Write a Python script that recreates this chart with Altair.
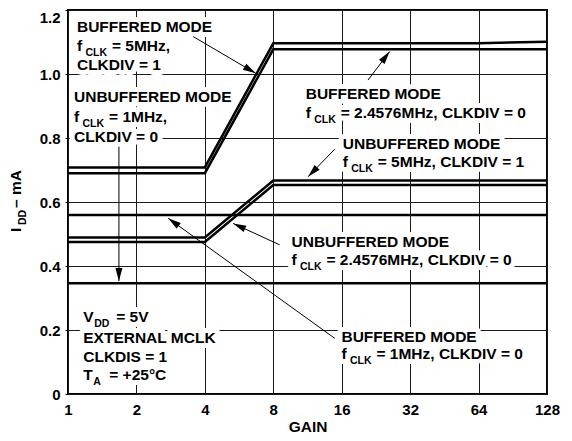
import math
import altair as alt
import pandas as pd

# ---------------- data (GAIN vs IDD, mA) ----------------
gain_buf_5m = [1, 4, 8, 64, 128]
idd_buf_5m = [0.708, 0.708, 1.096, 1.096, 1.101]
gain_buf_2m = [1, 4, 8, 128]
idd_buf_2m = [0.690, 0.690, 1.077, 1.077]
gain_unbuf_5m = [1, 4, 8, 128]
idd_unbuf_5m = [0.489, 0.489, 0.667, 0.667]
gain_unbuf_2m = [1, 4, 8, 128]
idd_unbuf_2m = [0.475, 0.475, 0.653, 0.653]
gain_buf_1m = [1, 128]
idd_buf_1m = [0.559, 0.559]
gain_unbuf_1m = [1, 128]
idd_unbuf_1m = [0.346, 0.346]

x_ticks = [1, 2, 4, 8, 16, 32, 64, 128]
y_ticks = [0, 0.2, 0.4, 0.6, 0.8, 1.0, 1.2]

# annotation blocks: anchor gain, baseline idd per line, lines
# a line is a plain string or (prefix, subscript, suffix)
label_blocks = [
    (1.095, [1.132, 1.072, 1.011],
     ["BUFFERED MODE", ("f", "CLK", "= 5MHz,"), "CLKDIV = 1"]),
    (1.063, [0.911, 0.850, 0.789],
     ["UNBUFFERED MODE", ("f", "CLK", "= 1MHz,"), "CLKDIV = 0"]),
    (11.11, [0.922, 0.8625],
     ["BUFFERED MODE", ("f", "CLK", "= 2.4576MHz, CLKDIV = 0")]),
    (16.17, [0.767, 0.709],
     ["UNBUFFERED MODE", ("f", "CLK", "= 5MHz, CLKDIV = 1")]),
    (9.62, [0.460, 0.403],
     ["UNBUFFERED MODE", ("f", "CLK", "= 2.4576MHz, CLKDIV = 0")]),
    (15.96, [0.163, 0.108],
     ["BUFFERED MODE", ("f", "CLK", "= 1MHz, CLKDIV = 0")]),
    (1.167, [0.224, 0.158, 0.101, 0.044],
     [("V", "DD", "= 5V"), "EXTERNAL MCLK", "CLKDIS = 1", ("T", "A", "= +25°C")]),
]

# arrows: tail gain, tail idd, tip gain, tip idd
arrow_tail_gain = [3.553, 20.88, 14.91, 8.54, 1.675, 14.91]
arrow_tail_idd = [1.117, 0.981, 0.765, 0.466, 0.773, 0.174]
arrow_tip_gain = [6.70, 26.0, 11.38, 5.33, 1.675, 2.759]
arrow_tip_idd = [1.002, 1.070, 0.679, 0.533, 0.353, 0.549]

# ---------------- styling ----------------
W, H = 479, 384
FONT = "Liberation Sans"
MAIN_SIZE = 15.5
SUB_SIZE = 10.5
SUB_DY = 5
SUB_DX = {"f": 8.5, "V": 11, "T": 10, "I": 7}
SUF_DX = {"f": 35, "V": 33, "T": 26, "I": 24}
HALO = 10

xscale = alt.Scale(type="log", base=2, domain=[1, 128], nice=False)
yscale = alt.Scale(domain=[0, 1.2], nice=False, zero=True)

series = [
    ("buf5", gain_buf_5m, idd_buf_5m),
    ("buf2", gain_buf_2m, idd_buf_2m),
    ("unbuf5", gain_unbuf_5m, idd_unbuf_5m),
    ("unbuf2", gain_unbuf_2m, idd_unbuf_2m),
    ("buf1", gain_buf_1m, idd_buf_1m),
    ("unbuf1", gain_unbuf_1m, idd_unbuf_1m),
]
rows = []
for name, gs, vs in series:
    for i, (g, v) in enumerate(zip(gs, vs)):
        rows.append({"series": name, "gain": g, "idd": v, "ord": i})
df_lines = pd.DataFrame(rows)

x_axis = alt.Axis(values=x_ticks, format="d", title="GAIN", labelFlush=False,
                  ticks=False, tickSize=0, domain=False, grid=True,
                  gridColor="#1a1a1a", gridWidth=1, gridOpacity=1,
                  labelFont=FONT, labelFontSize=15, labelFontWeight="bold",
                  labelColor="black", labelPadding=8,
                  titleFont=FONT, titleFontSize=15.5, titleFontWeight="bold",
                  titleColor="black", titlePadding=2)
y_axis = alt.Axis(values=y_ticks, title="", domain=False, grid=True,
                  gridColor="#1a1a1a", gridWidth=1, gridOpacity=1,
                  ticks=True, tickSize=3, tickColor="black", tickWidth=1,
                  labelExpr="datum.value == 0 ? '0' : format(datum.value, '.1f')",
                  labelBaseline={"condition": {"test": "datum.value > 1.1", "value": "top"},
                                 "value": "middle"},
                  labelFont=FONT, labelFontSize=15, labelFontWeight="bold",
                  labelColor="black", labelPadding=5)


def X(field):
    return alt.X(field, scale=xscale, axis=x_axis)


def Y(field):
    return alt.Y(field, scale=yscale, axis=y_axis)


lines = alt.Chart(df_lines).mark_line(color="black", strokeWidth=2.5, strokeJoin="miter").encode(
    x=X("gain:Q"),
    y=Y("idd:Q"),
    detail="series:N",
    order="ord:Q",
)

# ---- annotation text segments ----
seg_rows = []
for gx, ys, lns in label_blocks:
    for yv, ln in zip(ys, lns):
        if isinstance(ln, str):
            seg_rows.append({"gain": gx, "idd": yv, "text": ln, "size": MAIN_SIZE, "dx": 0, "dy": 0})
        else:
            pre, sub, suf = ln
            seg_rows.append({"gain": gx, "idd": yv, "text": pre, "size": MAIN_SIZE, "dx": 0, "dy": 0})
            seg_rows.append({"gain": gx, "idd": yv, "text": sub, "size": SUB_SIZE,
                             "dx": SUB_DX[pre], "dy": SUB_DY})
            seg_rows.append({"gain": gx, "idd": yv, "text": suf, "size": MAIN_SIZE,
                             "dx": SUF_DX[pre], "dy": 0})
df_seg = pd.DataFrame(seg_rows)

halo_layers = []
text_layers = []
for (size, dx, dy), grp in df_seg.groupby(["size", "dx", "dy"]):
    base = alt.Chart(grp.reset_index(drop=True)).encode(
        x=X("gain:Q"),
        y=Y("idd:Q"),
        text="text:N",
    )
    halo_layers.append(base.mark_text(font=FONT, fontWeight="bold", fontSize=float(size),
                                      align="left", baseline="alphabetic",
                                      dx=float(dx), dy=float(dy), color="white",
                                      stroke="white", strokeWidth=HALO, strokeJoin="round"))
    text_layers.append(base.mark_text(font=FONT, fontWeight="bold", fontSize=float(size),
                                      align="left", baseline="alphabetic",
                                      dx=float(dx), dy=float(dy), color="black"))

# ---- arrows ----
def px(g):
    return W * math.log2(g) / 7.0


def py(v):
    return H * (1 - v / 1.2)


arr_rows = []
for tg, tv, hg, hv in zip(arrow_tail_gain, arrow_tail_idd, arrow_tip_gain, arrow_tip_idd):
    ddx = px(hg) - px(tg)
    ddy = py(hv) - py(tv)
    ang = math.degrees(math.atan2(ddx, -ddy)) % 360
    arr_rows.append({"gain": tg, "idd": tv, "gain2": hg, "idd2": hv, "angle": ang})
df_arr = pd.DataFrame(arr_rows)

shafts = alt.Chart(df_arr).mark_rule(color="black", strokeWidth=1).encode(
    x=X("gain:Q"),
    y=Y("idd:Q"),
    x2="gain2:Q",
    y2="idd2:Q",
)
heads = alt.Chart(df_arr).mark_point(shape="M0,0L-0.27,1L0.27,1Z", size=676, filled=True,
                                     color="black", opacity=1, strokeWidth=0).encode(
    x=X("gain2:Q"),
    y=Y("idd2:Q"),
    angle=alt.Angle("angle:Q", scale=None),
)

# ---- y axis title with subscript ----
ytitle_parts = [("I", MAIN_SIZE, 0, 0), ("DD", SUB_SIZE, SUB_DX["I"], SUB_DY),
                ("– mA", MAIN_SIZE, SUF_DX["I"], 0)]
ytitle_layers = []
for txt, size, dx, dy in ytitle_parts:
    ytitle_layers.append(
        alt.Chart(pd.DataFrame([{"text": txt}])).mark_text(
            font=FONT, fontWeight="bold", fontSize=float(size), align="left",
            baseline="alphabetic", angle=270, dx=float(dx), dy=float(dy),
            color="black").encode(x=alt.value(-47), y=alt.value(222), text="text:N")
    )

chart = alt.layer(
    lines, *halo_layers, shafts, heads, *text_layers, *ytitle_layers
).properties(
    width=W, height=H,
    background="white",
    autosize=alt.AutoSizeParams(type="none"),
    padding={"left": 60, "top": 2, "right": 17, "bottom": 39},
).configure_view(stroke="black", strokeWidth=2)

chart.save("out.html", embed_options={"renderer": "svg", "actions": False})
